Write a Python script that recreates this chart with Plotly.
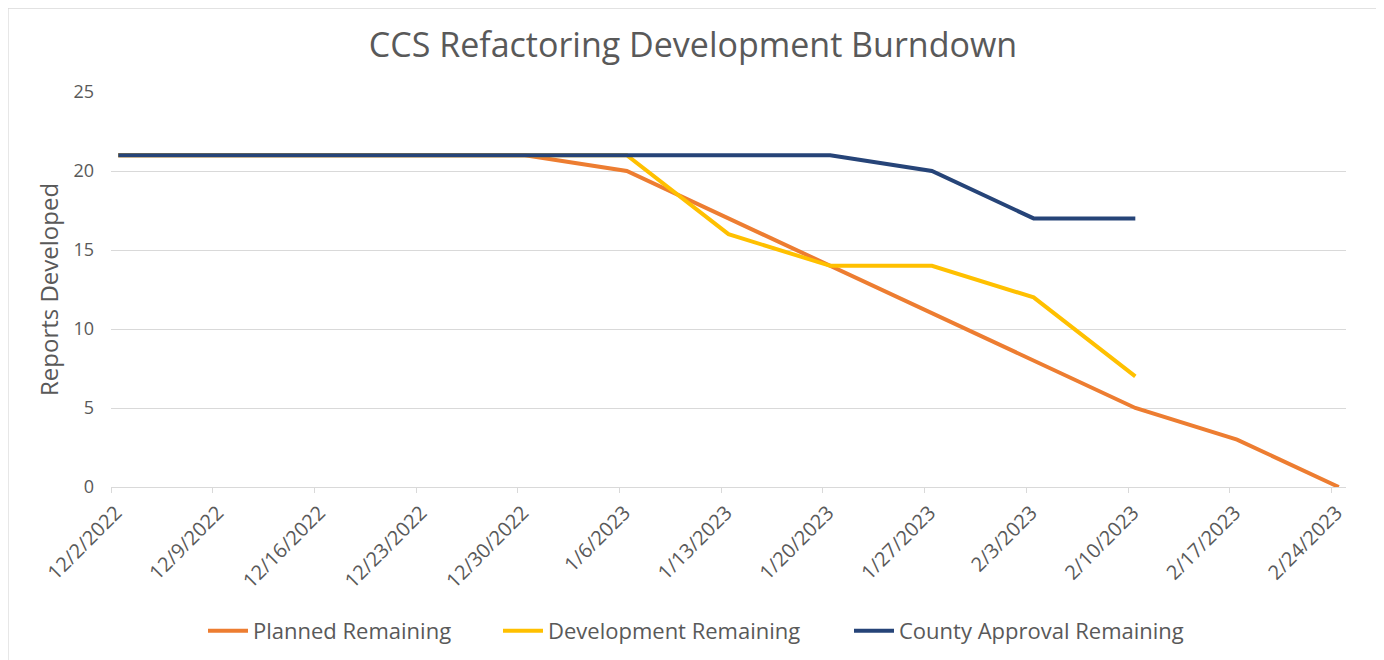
import pandas as pd
import plotly.graph_objects as go

# ---- data ----
week_labels = ["12/2/2022", "12/9/2022", "12/16/2022", "12/23/2022", "12/30/2022",
               "1/6/2023", "1/13/2023", "1/20/2023", "1/27/2023", "2/3/2023",
               "2/10/2023", "2/17/2023", "2/24/2023"]
planned_remaining = [21, 21, 21, 21, 21, 20, 17, 14, 11, 8, 5, 3, 0]
development_remaining = [21, 21, 21, 21, 21, 21, 16, 14, 14, 12, 7]
county_approval_remaining = [21, 21, 21, 21, 21, 21, 21, 21, 20, 17, 17]

dates = pd.to_datetime(week_labels, format="%m/%d/%Y")
# Excel date axis places each point in the middle of its day unit
pts = dates + pd.Timedelta(hours=12)

# ---- style ----
FONT = "Open Sans"
TXT = "#595959"
GRID = "#D9D9D9"
W, H = 1384, 660
OFF = 8  # page body margin
ML, MR, MT, MB = 111 - OFF, 46, 92 - OFF, 181
pw = W - ML - MR
ph = H - MT - MB

fig = go.Figure()
series = [
    ("Planned Remaining", planned_remaining, "#ED7D31", "legend", 205),
    ("Development Remaining", development_remaining, "#FFC000", "legend2", 500),
    ("County Approval Remaining", county_approval_remaining, "#264478", "legend3", 851),
]
legends = {}
for name, vals, col, lg, lx in series:
    fig.add_trace(go.Scatter(
        x=pts[:len(vals)], y=vals, mode="lines", name=name, legend=lg,
        line=dict(color=col, width=4, shape="linear"),
    ))
    legends[lg] = dict(orientation="h", xref="container", x=(lx - OFF - 2) / W, xanchor="left",
                       yref="paper", y=(H - MB - (631 - OFF)) / ph, yanchor="middle",
                       font=dict(family=FONT, size=22, color=TXT),
                       bgcolor="rgba(0,0,0,0)", itemwidth=40)

# chart-area border
fig.add_shape(type="rect", xref="paper", yref="paper",
              x0=(7 - OFF - ML) / pw + 0.0008, x1=(1378 - OFF - ML) / pw,
              y0=(H - MB - 668) / ph, y1=(H - MB - (7 - OFF)) / ph - 0.003,
              line=dict(color=GRID, width=1.3), fillcolor="rgba(0,0,0,0)", layer="below")

# y-axis title
fig.add_annotation(text="Reports Developed", textangle=-90, showarrow=False,
                   xref="paper", yref="paper",
                   x=(48 - OFF - ML) / pw, y=(H - MB - (290 - OFF)) / ph,
                   xanchor="center", yanchor="middle",
                   font=dict(family=FONT, size=24, color=TXT))

fig.update_layout(
    width=W, height=H,
    margin=dict(l=ML, r=MR, t=MT, b=MB, autoexpand=False),
    paper_bgcolor="white", plot_bgcolor="white",
    font=dict(family=FONT, color=TXT, size=18),
    title=dict(text="CCS Refactoring Development Burndown",
               x=(693 - OFF) / W, xref="container", xanchor="center",
               y=(H - (45 - OFF)) / H, yanchor="middle",
               font=dict(family=FONT, size=34, color=TXT)),
    showlegend=True,
    xaxis=dict(
        type="date", automargin=False,
        range=[dates[0], dates[-1] + pd.Timedelta(days=1)],
        tickmode="array", tickvals=dates, ticktext=week_labels,
        tickangle=-45, ticklabelshift=5,
        ticks="outside", ticklen=5, tickcolor=GRID,
        showline=True, linecolor=GRID, linewidth=1,
        showgrid=False, zeroline=False,
        tickfont=dict(family=FONT, size=20, color=TXT),
        fixedrange=True,
    ),
    yaxis=dict(
        range=[0, 25], dtick=5, tick0=0, automargin=False,
        showgrid=True, gridcolor=GRID, gridwidth=1,
        zeroline=False, showline=False, ticks="",
        ticklabelstandoff=16,
        tickfont=dict(family=FONT, size=18, color=TXT),
    ),
    **legends,
)

fig.write_html("out.html")
